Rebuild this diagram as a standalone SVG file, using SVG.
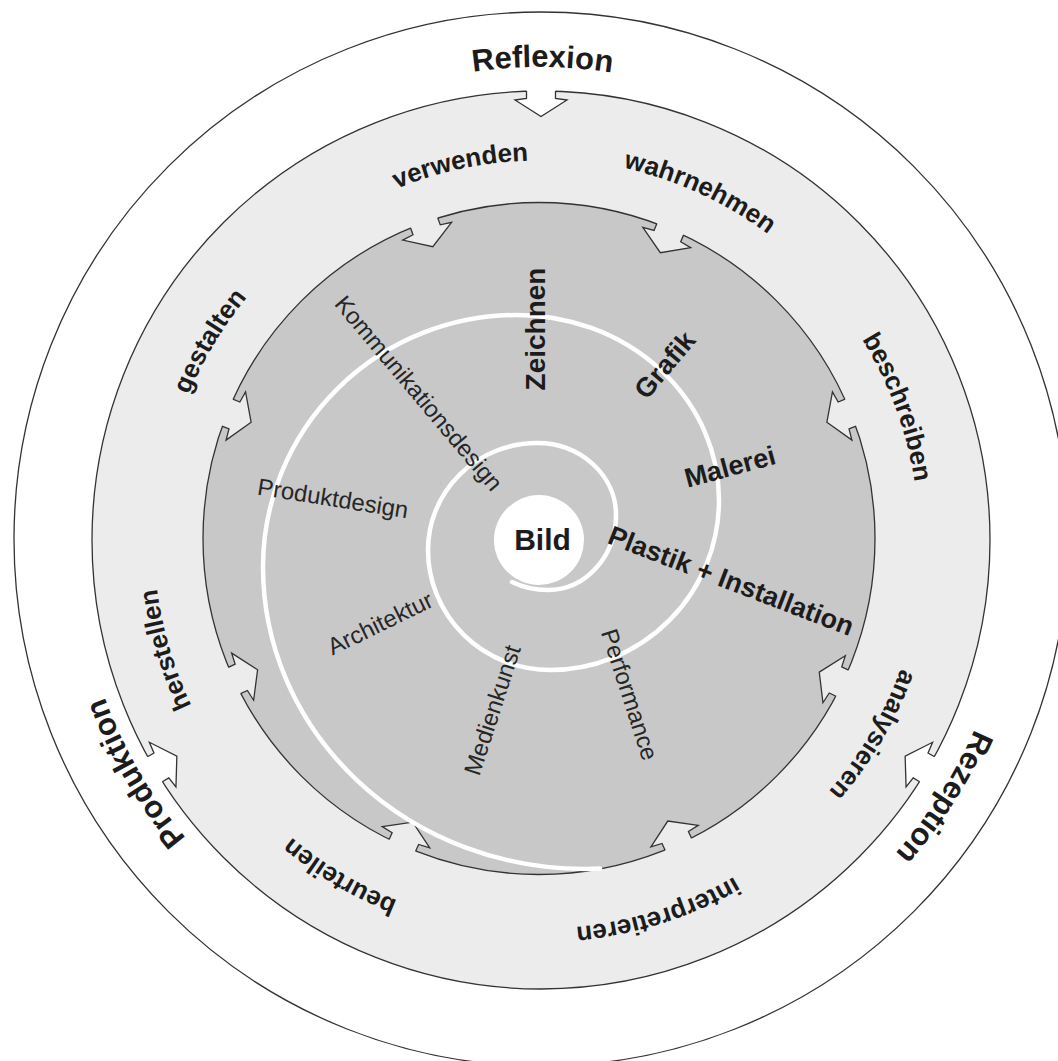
<svg xmlns="http://www.w3.org/2000/svg" xmlns:xlink="http://www.w3.org/1999/xlink" width="1058" height="1061" viewBox="0 0 1058 1061">
<style>
.edge{stroke:#333;stroke-width:1.3}
.nf{stroke:none}
.ns{fill:none;stroke:#333;stroke-width:1.3;stroke-linejoin:miter}
.lab{font-family:"Liberation Sans",Arial,Helvetica,sans-serif;fill:#1c1c1c}
.b31{font-size:31px;font-weight:bold}
.b26{font-size:26px;font-weight:bold}
.b27{font-size:27px;font-weight:bold}
.b28{font-size:28px;font-weight:bold}
.b30{font-size:30px;font-weight:bold}
.r23{font-size:23.8px;fill:#262626}
.spoke{dominant-baseline:central;text-anchor:middle}
.arc{text-anchor:middle}
</style>
<defs>
<g id="notch">
<polygon class="nf" points="-14.5,-3 -14.5,7.5 -26,9 0,25.5 26,9 14.5,7.5 14.5,-3"/>
<polyline class="ns" points="-14.5,0 -14.5,7.5 -26,9 0,25.5 26,9 14.5,7.5 14.5,0"/>
</g>
<path id="p4725" d="M540,1012 A472.5,472.5 0 0 1 540,67 A472.5,472.5 0 0 1 540,1012"/>
<path id="p474" d="M540,1013.5 A474,474 0 0 1 540,65.5 A474,474 0 0 1 540,1013.5"/>
<path id="p463" d="M540,1002.5 A463,463 0 0 1 540,76.5 A463,463 0 0 1 540,1002.5"/>
<path id="p379" d="M540,918.5 A379,379 0 0 1 540,160.5 A379,379 0 0 1 540,918.5"/>
<path id="p380" d="M540,919.5 A380,380 0 0 1 540,159.5 A380,380 0 0 1 540,919.5"/>
<path id="p381" d="M540,920.5 A381,381 0 0 1 540,158.5 A381,381 0 0 1 540,920.5"/>
<path id="p383" d="M540,922.5 A383,383 0 0 1 540,156.5 A383,383 0 0 1 540,922.5"/>
<path id="p386" d="M540,925.5 A386,386 0 0 1 540,153.5 A386,386 0 0 1 540,925.5"/>
<path id="p388" d="M540,927.5 A388,388 0 0 1 540,151.5 A388,388 0 0 1 540,927.5"/>
<path id="p389" d="M540,928.5 A389,389 0 0 1 540,150.5 A389,389 0 0 1 540,928.5"/>
</defs>
<rect width="1058" height="1061" fill="#fff"/>

<g id="ring-outer">
<circle class="edge" cx="541" cy="539" r="527" fill="#fff"/>
</g>

<g id="ring-middle">
<circle class="edge" cx="541" cy="540" r="449" fill="#ececec"/>
<use href="#notch" fill="#fff" transform="translate(541,540) rotate(0) translate(0,-449)"/>
<use href="#notch" fill="#fff" transform="translate(541,540) rotate(120.7) translate(0,-449)"/>
<use href="#notch" fill="#fff" transform="translate(541,540) rotate(239.3) translate(0,-449)"/>
</g>

<g id="disc-inner">
<circle class="edge" cx="539" cy="538.5" r="336" fill="#c8c8c8"/>
<use href="#notch" fill="#ececec" transform="translate(539,538.5) rotate(-20) translate(0,-336)"/>
<use href="#notch" fill="#ececec" transform="translate(539,538.5) rotate(23) translate(0,-336)"/>
<use href="#notch" fill="#ececec" transform="translate(539,538.5) rotate(68) translate(0,-336)"/>
<use href="#notch" fill="#ececec" transform="translate(539,538.5) rotate(115.5) translate(0,-336)"/>
<use href="#notch" fill="#ececec" transform="translate(539,538.5) rotate(155.5) translate(0,-336)"/>
<use href="#notch" fill="#ececec" transform="translate(539,538.5) rotate(204) translate(0,-336)"/>
<use href="#notch" fill="#ececec" transform="translate(539,538.5) rotate(245) translate(0,-336)"/>
<use href="#notch" fill="#ececec" transform="translate(539,538.5) rotate(292) translate(0,-336)"/>
</g>

<g id="spiral">
<path d="M512,582 Q528,590 548,590 A68,75 0 0 0 616,515 A79,72 0 0 0 537,443 A109,107 0 0 0 428,550 A122,120 0 0 0 550,670 A169,170 0 0 0 719,500 A202,185 0 0 0 517,315 A254,252 0 0 0 263,567 A322,302 0 0 0 585,869 L600,868.6" fill="none" stroke="#fff" stroke-width="4.5" stroke-linecap="round"/>
</g>

<g id="center-bild">
<circle cx="539" cy="540" r="45" fill="#fff"/>
<text class="lab b30 spoke" x="542.5" y="539">Bild</text>
</g>

<g id="labels-outer">
<text class="lab b31 arc" transform="rotate(0.3 540 539.5)"><textPath href="#p4725" startOffset="50%">Reflexion</textPath></text>
<text class="lab b31 arc" transform="rotate(122.5 540 539.5)"><textPath href="#p474" startOffset="50%">Rezeption</textPath></text>
<text class="lab b31 arc" transform="rotate(240 540 539.5)"><textPath href="#p463" startOffset="50%">Produktion</textPath></text>
</g>

<g id="labels-verbs">
<text class="lab b26 arc" transform="rotate(-12 540 539.5)"><textPath href="#p379" startOffset="50%">verwenden</textPath></text>
<text class="lab b26 arc" transform="rotate(24.7 540 539.5)"><textPath href="#p381" startOffset="50%">wahrnehmen</textPath></text>
<text class="lab b26 arc" transform="rotate(69.7 540 539.5)"><textPath href="#p379" startOffset="50%">beschreiben</textPath></text>
<text class="lab b26 arc" transform="rotate(120.4 540 539.5)"><textPath href="#p383" startOffset="50%">analysieren</textPath></text>
<text class="lab b26 arc" transform="rotate(162.4 540 539.5)"><textPath href="#p389" startOffset="50%">interpretieren</textPath></text>
<text class="lab b26 arc" transform="rotate(210.7 540 539.5)"><textPath href="#p388" startOffset="50%">beurteilen</textPath></text>
<text class="lab b26 arc" transform="rotate(253.6 540 539.5)"><textPath href="#p386" startOffset="50%">herstellen</textPath></text>
<text class="lab b26 arc" transform="rotate(301 540 539.5)"><textPath href="#p380" startOffset="50%">gestalten</textPath></text>
</g>

<g id="labels-media">
<text class="lab b28 spoke" x="535" y="329" transform="rotate(-90 535 329)">Zeichnen</text>
<text class="lab b27 spoke" x="665" y="365" transform="rotate(-50 665 365)">Grafik</text>
<text class="lab b27 spoke" x="730" y="467" transform="rotate(-15 730 467)">Malerei</text>
<text class="lab b27 spoke" x="731" y="581" transform="rotate(21 731 581)">Plastik + Installation</text>
<text class="lab r23 spoke" x="419" y="393" transform="rotate(50 419 393)">Kommunikationsdesign</text>
<text class="lab r23 spoke" x="333" y="498" transform="rotate(9 333 498)">Produktdesign</text>
<text class="lab r23 spoke" x="380" y="623" transform="rotate(-26 380 623)">Architektur</text>
<text class="lab r23 spoke" x="492" y="710" transform="rotate(-72 492 710)">Medienkunst</text>
<text class="lab r23 spoke" x="630" y="694.5" transform="rotate(72 630 694.5)">Performance</text>
</g>
</svg>
